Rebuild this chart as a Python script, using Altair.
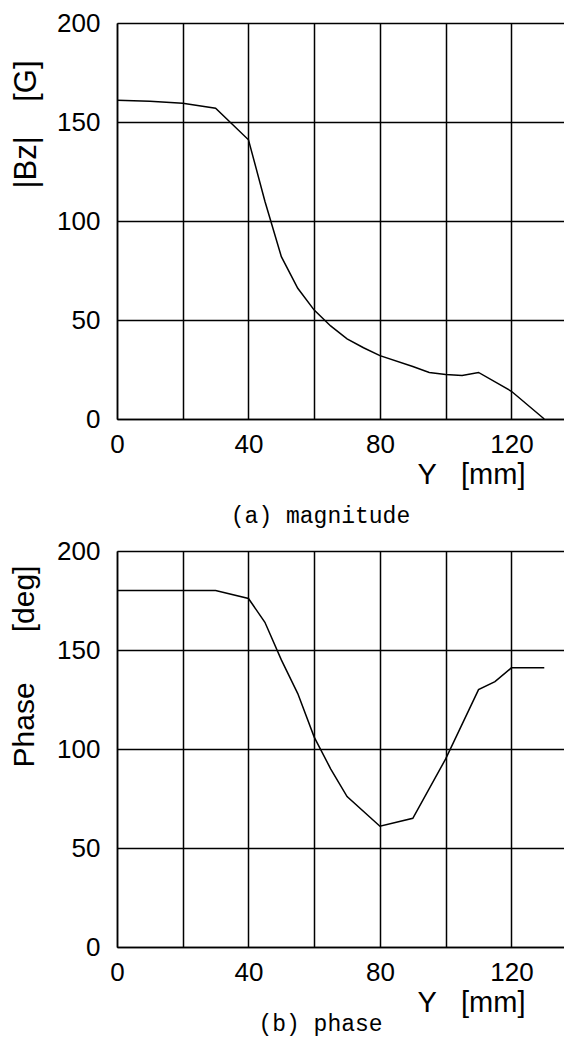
import altair as alt
import pandas as pd

# (a) magnitude
mag_y = [0, 10, 20, 30, 40, 45, 50, 55, 60, 65, 70, 75, 80, 90, 95, 100, 105, 110, 120, 130]
mag_bz = [161, 160.5, 159.5, 157, 141, 110, 82, 66, 55, 47, 40.5, 36, 32, 26.5, 23.5, 22.5, 22, 23.5, 14, 0]

# (b) phase
ph_y = [0, 10, 20, 30, 40, 45, 50, 55, 60, 65, 70, 80, 90, 100, 110, 115, 120, 130]
ph_deg = [180, 180, 180, 180, 176, 164, 145, 128, 106, 90, 76, 61, 65, 95, 130, 134, 141, 141]

x_grid = [0, 20, 40, 60, 80, 100, 120]
y_ticks = [0, 50, 100, 150, 200]

df_a = pd.DataFrame({"Y": mag_y, "V": mag_bz})
df_b = pd.DataFrame({"Y": ph_y, "V": ph_deg})

SANS = "Liberation Sans"
MONO = "Liberation Mono"
W, H = 447, 396
NB = "\u00a0"


def panel(df, ytitle, ytsize, ytx, yty, caption, cap_dx, cap_off):
    xaxis = alt.Axis(
        values=x_grid,
        labelExpr="datum.value % 40 == 0 ? datum.label : ''",
        labelFlush=False,
        labelFont=SANS, labelFontSize=26, labelColor="black", labelPadding=12,
        ticks=False, grid=True, gridColor="black", gridWidth=1.5, gridOpacity=1,
        domainColor="black", domainWidth=1.5,
        title="Y" + NB * 3 + "[mm]", titleFont=SANS, titleFontSize=29,
        titleFontWeight="normal",
        titleColor="black", titleX=408, titleY=55, titleAlign="right",
        titleBaseline="middle",
    )
    yaxis = alt.Axis(
        values=y_ticks,
        labelFont=SANS, labelFontSize=26, labelColor="black", labelPadding=17,
        ticks=False, grid=True, gridColor="black", gridWidth=1.5, gridOpacity=1,
        domainColor="black", domainWidth=1.5,
        title=ytitle, titleFont=SANS, titleFontSize=ytsize, titleFontWeight="normal",
        titleColor="black", titleAngle=-90, titleX=ytx, titleY=yty,
        titleAlign="center", titleBaseline="middle",
    )
    return (
        alt.Chart(df)
        .mark_line(color="black", strokeWidth=1.5)
        .encode(
            x=alt.X("Y:Q", scale=alt.Scale(domain=[0, 136], nice=False), axis=xaxis),
            y=alt.Y("V:Q", scale=alt.Scale(domain=[0, 200], nice=False), axis=yaxis),
        )
        .properties(
            width=W, height=H,
            title=alt.TitleParams(
                caption, orient="bottom", font=MONO, fontSize=23,
                fontWeight="normal", color="black", anchor="middle",
                dx=cap_dx, offset=cap_off,
            ),
        )
    )


top = panel(df_a, "|Bz|" + NB * 4 + "[G]", 31, -91, 101, "(a) magnitude", -20, 16)
bottom = panel(df_b, "Phase" + NB * 6 + "[deg]", 30, -93, 115, "(b) phase", -20, -4)

chart = (
    alt.vconcat(top, bottom, spacing=10)
    .properties(padding={"left": 0, "top": 2, "right": 0, "bottom": 5})
    .configure_view(stroke=None)
)

chart.save("out.html", embed_options={"renderer": "svg", "actions": False})
